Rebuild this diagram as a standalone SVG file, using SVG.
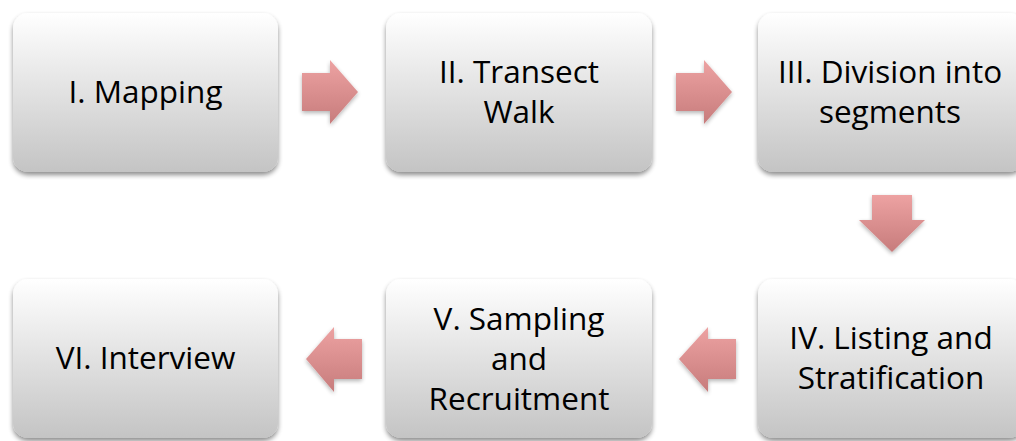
<svg xmlns="http://www.w3.org/2000/svg" width="1016" height="441" viewBox="0 0 1016 441">
<defs>
<linearGradient id="boxg" x1="0" y1="0" x2="0" y2="1">
<stop offset="0" stop-color="#ffffff"/>
<stop offset="1" stop-color="#c4c4c4"/>
</linearGradient>
<linearGradient id="arrh" x1="0" y1="0" x2="0" y2="1">
<stop offset="0" stop-color="#eda2a2"/>
<stop offset="1" stop-color="#c77c7c"/>
</linearGradient>
<filter id="sh" x="-10%" y="-10%" width="120%" height="125%">
<feGaussianBlur in="SourceAlpha" stdDeviation="2.5"/>
<feOffset dx="0" dy="3" result="b"/>
<feComponentTransfer><feFuncA type="linear" slope="0.45"/></feComponentTransfer>
<feMerge><feMergeNode/><feMergeNode in="SourceGraphic"/></feMerge>
</filter>
<filter id="ash" x="-20%" y="-20%" width="140%" height="140%">
<feGaussianBlur in="SourceAlpha" stdDeviation="2"/>
<feOffset dx="0" dy="2" result="b"/>
<feComponentTransfer><feFuncA type="linear" slope="0.3"/></feComponentTransfer>
<feMerge><feMergeNode/><feMergeNode in="SourceGraphic"/></feMerge>
</filter>
</defs>
<style>
.box{fill:url(#boxg);filter:url(#sh)}
.t{font-family:"Open Sans","DejaVu Sans",sans-serif;font-size:31.5px;fill:#000;text-anchor:middle}
.arr{fill:url(#arrh);filter:url(#ash)}
</style>
<rect width="1016" height="441" fill="#fff"/>
<g id="connectors">
<polygon class="arr" points="302,73 330,73 330,60 358,92 330,124 330,111 302,111"/>
<polygon class="arr" points="676,73 704,73 704,60 732,92 704,124 704,111 676,111"/>
<polygon class="arr" points="872,195 912,195 912,220 925,220 892,252 859,220 872,220"/>
<polygon class="arr" points="736,339 708,339 708,327 679,359 708,392 708,379 736,379"/>
<polygon class="arr" points="362,339 334,339 334,327 306,359 334,392 334,379 362,379"/>
</g>
<g id="n1"><rect class="box" x="13" y="13" width="265" height="159" rx="15"/><text class="t" x="145.5" y="103">I. Mapping</text></g>
<g id="n2"><rect class="box" x="386" y="13" width="266" height="159" rx="15"/><text class="t" x="519" y="83">II. Transect</text><text class="t" x="519" y="123">Walk</text></g>
<g id="n3"><rect class="box" x="758" y="13" width="266" height="159" rx="15"/><text class="t" x="890" y="83">III. Division into</text><text class="t" x="890" y="123">segments</text></g>
<g id="n4"><rect class="box" x="758" y="279" width="266" height="159" rx="15"/><text class="t" x="891" y="349">IV. Listing and</text><text class="t" x="891" y="389">Stratification</text></g>
<g id="n5"><rect class="box" x="386" y="279" width="266" height="159" rx="15"/><text class="t" x="519" y="330">V. Sampling</text><text class="t" x="519" y="370">and</text><text class="t" x="519" y="410">Recruitment</text></g>
<g id="n6"><rect class="box" x="13" y="279" width="265" height="159" rx="15"/><text class="t" x="145.5" y="369">VI. Interview</text></g>
</svg>
